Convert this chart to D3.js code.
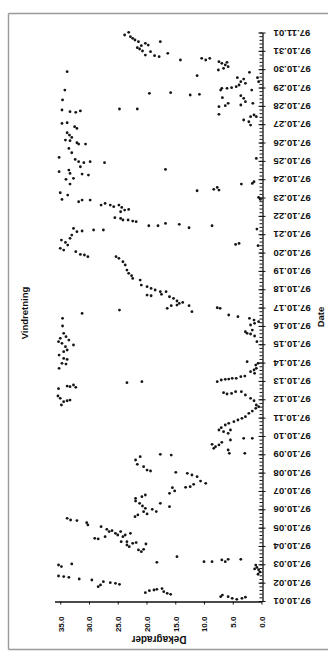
<!DOCTYPE html>
<html>
<head>
<meta charset="utf-8">
<script src="https://cdn.jsdelivr.net/npm/d3@7"></script>
<style>
  html, body { margin: 0; padding: 0; background: #fff; }
  svg { display: block; }
  text { font-family: "Liberation Sans", Arial, sans-serif; fill: #111; }
</style>
</head>
<body>
<svg id="chart" width="328" height="659"></svg>
<script>
// Titles and axis labels
const chartTitle = "Vindretning";
const valueTitle = "Dekagrader";
const dateTitle = "Date";

// Value axis ticks (tens of degrees)
const valueTicks = [0, 5, 10, 15, 20, 25, 30, 35];
const valueMax = 36;

// Date range of the axis (UTC)
const periodStart = [1997, 9, 1];
const periodEnd = [1997, 10, 1];

// Wind direction readings: [hours after 97.10.01 00:00, direction in dekagrader]
const readings = [
  // 97.10.01 - 97.10.06
  [5.6,7.1],[7.8,6.8],[5.6,5.8],[3.5,5.1],[2.2,4.3],[3.5,3.4],[5.0,2.8],
  [47,1.0],[44,0.8],[41,0.5],[38,0.3],[35,0.6],[42,1.2],
  [10.9,20.2],[13.5,19.5],[14.4,18.7],[15.3,18.2],[16.2,17.3],[12.2,17.0],[10.1,16.4],[8.8,15.8],
  [47.1,35.3],[45,34.8],[48.5,33.0],[32.7,35.3],[31.9,34.4],[31,33.5],[28.8,31.7],[27.5,29.5],
  [18.8,28.4],[21,28.0],[25.3,27.5],[24,26.3],[23.1,25.4],[21.8,24.7],
  [50.6,18.2],[58,14.7],[51.5,10.0],[51.5,8.6],[53.7,6.9],[51.5,6.3],[54.6,5.8],[54.6,3.6],
  [82,29.0],[81.2,28.4],[97.3,27.9],[84.2,27.2],[93.8,26.9],[90.8,26.5],[92.1,26.0],[88.6,25.4],
  [86.4,25.0],[90.8,24.5],[84.2,24.1],[86.4,23.7],[77.7,24.4],[73.3,23.4],[71.1,23.0],[75.5,22.4],
  [76.4,21.8],[66.8,21.4],[64.6,20.9],[67.6,20.5],[74.6,20.1],[88.6,22.8],[77.7,23.4],
  [108.2,33.8],[106,33.2],[105.2,32.1],[102.5,30.4],[99.5,30.2],
  [130.9,21.9],[127.8,21.2],[124.3,20.7],[121.3,20.2],[116.9,20.5],[113.9,19.9],[120,19.0],[117,18.3],
  [127.8,17.6],[123.5,16.0],[110.4,22.0],[112.6,21.5],
  // 97.10.06 - 97.10.11
  [134.4,21.9],[136.5,20.8],[138.7,20.2],[140.9,16.0],[144,15.1],[148.3,15.5],[148.8,13.2],[149.6,12.4],
  [152.7,11.8],[154,9.7],[157,10.6],[162.7,11.2],[164.9,12.1],[167.1,12.9],[168.4,14.9],
  [170.1,19.3],[171.4,19.9],[175.8,20.5],[178.9,21.6],[184.5,21.9],[188.9,21.1],[191,15.7],[192,17.6],
  [193.3,2.9],[193.3,5.6],[197.6,5.8],[199.8,8.3],[202,8.0],[204.2,7.4],[205,8.6],[207.6,6.9],
  [210.7,5.4],[212.9,3.1],[212.9,1.6],[219.4,5.8],[221.6,6.6],[223.8,7.4],[223.8,5.4],[226.8,7.0],
  [230.3,6.3],[232.5,5.7],[234.7,4.8],[236.9,4.1],[239.1,3.4],[241.2,2.8],[245.6,2.2],[248.6,1.6],
  [252.1,1.0],[254.3,0.5],
  // 97.10.11 - 97.10.16
  [256.5,34.8],[260.8,34.4],[262.1,33.8],[263,33.3],[265.2,35.0],[268.3,35.4],[277.9,35.3],
  [279.6,32.3],[280.5,33.3],[281.3,33.8],[282.7,32.7],
  [285.7,23.4],[287,20.8],
  [256.5,0.9],[262.1,1.3],[265.2,1.9],[269.6,2.8],[270.9,6.0],[271.7,5.2],[272.6,6.6],[273.9,4.5],[273.9,3.5],
  [287,7.7],[289.2,7.0],[290.1,6.3],[290.5,5.7],[291.4,5.1],[291.4,4.4],[293.6,3.6],[294.4,2.9],
  [297.9,1.2],[300.1,1.9],[302.3,1.3],[304.5,0.9],[308.8,1.0],[311,0.6],[313.2,2.5],
  [304.5,35.2],[310.1,34.0],[311,34.7],[316.2,33.8],[317.5,34.4],[321.9,35.2],[326.3,34.4],[328.5,33.8],
  [332.8,34.1],[335,32.7],[337.2,34.7],[339.4,35.3],[341.5,33.5],[343.7,35.0],[345.9,34.0],[350.3,34.4],
  [359.9,34.6],[369.9,34.6],
  [339.4,0.8],[346.8,1.2],[349.4,1.9],[350.3,2.5],[352.4,2.8],[354.6,1.6],[361.2,1.9],[363.4,1.2],
  [365.5,0.5],[367.7,1.3],[369.9,2.1],[372.1,4.1],[374.3,5.7],
  [376.4,31.2],[380.8,24.7],
  // 97.10.16 - 97.10.21
  [378.6,12.1],[383,7.2],[383.8,7.7],[383,16.4],[386.5,15.7],[386.5,12.6],[387.3,14.7],[389.5,14.3],
  [390.8,13.7],[392.6,14.7],[396,15.3],[398.2,16.0],[399.5,19.2],[400.4,19.9],[401.3,17.4],[404.8,16.6],
  [404.8,17.6],[407,18.5],[409.1,19.2],[411.3,19.9],[413.5,20.9],[420,21.1],[422.2,22.4],[425.7,22.6],
  [428.8,23.1],[433.1,23.4],[439.7,23.7],[444,24.1],[448.4,24.8],[450.6,25.3],
  [450.6,30.2],[452.8,30.8],[453.6,31.5],[457.1,32.3],[459.3,34.4],[461.5,35.0],[465.8,33.7],[469.3,34.1],
  [472.4,34.8],[474.6,33.3],[478.9,33.0],[483.3,32.1],[484.2,31.2],[485.5,29.2],[485.5,27.5],[487.6,32.7],
  [465,0.6],[466.7,4.5],[468,3.9],[486.8,0.8],
  [488.5,12.6],[491.1,8.6],[491.1,19.6],[491.1,18.0],[492.9,14.3],[494.2,16.7],[496.4,21.8],[497.2,22.4],
  [498.6,24.1],[498.6,23.2],[500.7,24.5],[501.6,25.5],
  // 97.10.21 - 97.10.27
  [509.4,24.5],[511.6,23.8],[512.5,23.1],[515.1,24.3],[516,25.7],[518.2,27.9],[518.2,26.3],[518.2,24.8],[520.3,27.2],
  [522.5,31.8],[524.7,31.2],[524.7,29.8],[525.6,34.7],[531.3,33.7],[534.3,35.0],[545.6,33.3],[551.8,34.0],
  [553.1,32.7],[557.4,30.1],[558.7,31.2],[559.6,33.3],[561.8,35.2],[564,33.5],[568.3,31.5],[573.6,30.9],
  [574.9,31.8],[574.9,29.8],[577.9,32.4],[580.5,35.2],[586.6,33.0],[592.3,33.5],[598,31.8],[598,30.6],
  [599.7,32.1],[602.4,33.3],[603.2,34.1],[606.7,33.0],[609.8,33.4],[612.8,33.8],[618.5,32.1],[620.7,32.5],
  [625,34.7],[625.9,33.8],[573.6,27.3],[564.8,16.7],
  [525.6,0.2],[528.2,0.5],[536.9,11.2],[537.8,7.4],[538.7,8.3],[541.3,7.7],[545.6,3.5],[546.5,1.6],
  [548.7,1.3],[579.2,0.9],[622.9,1.9],[627.2,2.2],
  // 97.10.27 - 97.11.01
  [629.5,3.1],[633.8,1.9],[633.8,0.9],[636,1.3],[636.9,7.4],[646.9,7.4],[648.2,6.3],[649.1,3.6],
  [651.3,5.8],[651.3,1.5],[653.5,2.8],[657.8,3.1],[658.7,6.8],[661.3,3.6],[668.7,1.7],[668.7,7.1],
  [670.9,6.0],[670.9,6.9],[671.8,5.2],[673.1,4.4],[675.3,3.9],[677.5,2.8],[679.6,3.6],[679.6,0.5],
  [683.1,3.1],[684.9,4.2],[684.9,0.7],[687.5,11.2],[691.9,2.1],[694.9,7.5],[697.1,6.6],[699.3,5.8],
  [701.5,6.3],[703.6,6.9],[705,6.0],[705.8,7.4],[708,9.7],[710.2,10.4],[710.2,9.0],
  [662.2,12.4],[663.1,10.8],[664.4,19.5],[665.3,15.8],[643.9,24.7],[643.9,21.6],
  [639.5,32.3],[640.4,33.3],[641.3,31.5],[642.6,34.7],[655.7,34.6],[668.7,34.2],[692.7,33.8],
  [708,14.1],[712.4,17.8],[713.7,18.6],[714.5,20.2],[716.7,16.3],[718.9,19.3],[719.8,20.7],[722.4,21.2],
  [724.1,21.6],[726.8,20.9],[727.6,19.7],[729.8,20.2],[732,21.4],[732,17.6],[734.2,22.0],[736.4,22.4],
  [738.5,22.8],[740.7,23.8],[744.2,23.1]
];

const svg = d3.select("#chart");

const t0 = new Date(Date.UTC(...periodStart));
const t1 = new Date(Date.UTC(...periodEnd));
const hour = 3600 * 1000;

// Dates run upward along the right side, values run right-to-left along the bottom
const y = d3.scaleUtc().domain([t0, t1]).range([601, 32.5]);
const x = d3.scaleLinear().domain([0, valueMax]).range([261.5, 54.5]);

// Outer frame
const frame = svg.append("g")
  .attr("fill", "none")
  .attr("stroke", "#9a9a9a")
  .attr("stroke-width", 1.4);
frame.append("line").attr("x1", 8.5).attr("x2", 328).attr("y1", 13.5).attr("y2", 13.5);
frame.append("line").attr("x1", 8.5).attr("x2", 8.5).attr("y1", 13.5).attr("y2", 649.5);
frame.append("line").attr("x1", 8.5).attr("x2", 328).attr("y1", 649.5).attr("y2", 649.5);

// Points
svg.append("g")
  .selectAll("circle")
  .data(readings)
  .join("circle")
  .attr("cx", d => x(d[1]))
  .attr("cy", d => y(new Date(t0.getTime() + d[0] * hour)))
  .attr("r", 1.4)
  .attr("fill", "#141414");

// Date axis: minor ticks every 0.2 day
const minorTicks = d3.range(0, 31 * 5 + 1).map(i => new Date(t0.getTime() + i * 0.2 * 24 * hour));
const dateAxisX = 262.5;
svg.append("g")
  .attr("transform", `translate(${dateAxisX},0)`)
  .call(d3.axisRight(y).tickValues(minorTicks).tickFormat("").tickSizeInner(-3).tickSizeOuter(0))
  .call(g => g.select(".domain").remove())
  .call(g => g.selectAll("line").attr("stroke", "#111"));

const dateAxis = svg.append("g")
  .attr("transform", `translate(${dateAxisX},0)`)
  .call(d3.axisRight(y)
    .ticks(d3.utcDay.every(1))
    .tickFormat(d3.utcFormat("%y.%m.%d"))
    .tickSizeInner(-4)
    .tickSizeOuter(0)
    .tickPadding(0));
dateAxis.select(".domain").attr("stroke", "#111").attr("stroke-width", 1.3);
dateAxis.selectAll(".tick line").attr("stroke", "#111").attr("x2", 3).attr("x1", -4);
dateAxis.selectAll(".tick text")
  .attr("x", null)
  .attr("dy", "0.35em")
  .attr("text-anchor", "end")
  .attr("transform", "translate(11,0) rotate(180)")
  .style("font-size", "9.6px")
  .style("font-weight", "bold");

// Value axis along the bottom
const valueAxis = svg.append("g")
  .attr("transform", "translate(0,601.5)")
  .call(d3.axisBottom(x)
    .tickValues(valueTicks)
    .tickFormat(d3.format(".1f"))
    .tickSizeInner(3)
    .tickSizeOuter(0)
    .tickPadding(0));
valueAxis.select(".domain").attr("stroke", "#111").attr("stroke-width", 1.3);
valueAxis.selectAll(".tick line").attr("stroke", "#111");
valueAxis.selectAll(".tick text")
  .attr("y", null)
  .attr("dy", "0.35em")
  .attr("text-anchor", "end")
  .attr("transform", "translate(0,15) rotate(-90)")
  .style("font-size", "8px")
  .style("font-weight", "bold");

// Titles
svg.append("text")
  .attr("transform", "translate(25,313) rotate(-90)")
  .attr("text-anchor", "middle")
  .attr("dy", "0.35em")
  .style("font-size", "9.5px")
  .style("font-weight", "bold")
  .text(chartTitle);

svg.append("text")
  .attr("transform", "translate(159,639) rotate(180)")
  .attr("text-anchor", "middle")
  .attr("dy", "0.35em")
  .style("font-size", "10px")
  .style("font-weight", "bold")
  .text(valueTitle);

svg.append("text")
  .attr("transform", "translate(321,317) rotate(-90)")
  .attr("text-anchor", "middle")
  .attr("dy", "0.35em")
  .style("font-size", "9.5px")
  .style("font-weight", "bold")
  .text(dateTitle);
</script>
</body>
</html>
